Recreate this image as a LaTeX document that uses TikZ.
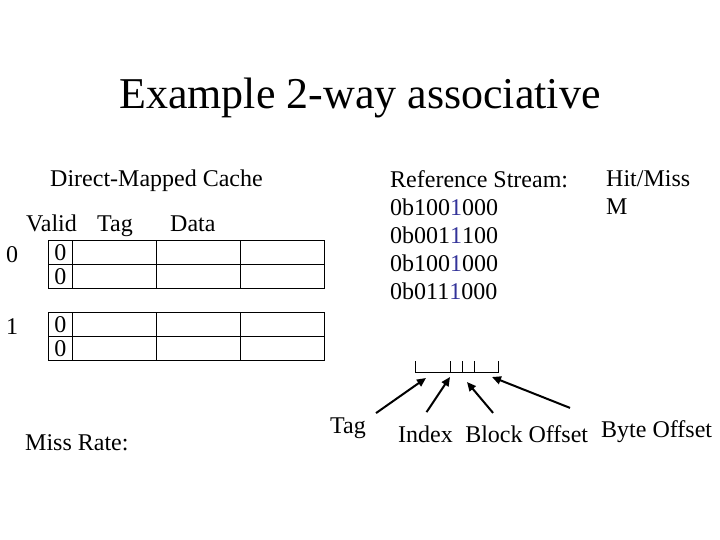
\documentclass[tikz,border=0pt]{standalone}
\usepackage{fontspec}
\setmainfont{Liberation Serif}
\usepackage{xcolor}
\usepackage{tikz}
\usetikzlibrary{arrows.meta,positioning}
\definecolor{idxblue}{HTML}{333399}
\newcommand{\hl}[1]{\textcolor{idxblue}{#1}}
\begin{document}
\begin{tikzpicture}[x=1pt,y=-1pt,
txt/.style={anchor=base west,inner sep=0pt,font=\fontsize{24}{28}\selectfont},
vcell/.style={draw,line width=.8pt,outer sep=0pt,inner sep=0pt,minimum width=24.5pt,minimum height=24pt,font=\fontsize{24}{28}\selectfont},
tcell/.style={vcell,minimum width=83.5pt},dcell/.style={vcell,minimum width=84pt},
arr/.style={-{Triangle[length=9pt,width=8pt]},line width=2pt}]
\useasboundingbox (0,0) rectangle (720,540);
\node[anchor=base,inner sep=0pt,font=\fontsize{44}{50}\selectfont] (title) at (360,109) {Example 2-way associative};
\node[txt] (dmc) at (50,187) {Direct-Mapped Cache};
\node[txt] (valid) at (26,231) {Valid};
\node[txt] (tagh) at (97,231) {Tag};
\node[txt] (data) at (170,231) {Data};
% two sets, two ways each
\foreach \s/\y in {0/252.3,1/324.3} {
  \node[txt] (set\s) at (6,\y+9.7) {\s};
  \node[vcell] (v\s a) at (60.3,\y) {0};
  \node[vcell,below=0pt of v\s a] (v\s b) {0};
  \foreach \r in {a,b} {
    \node[tcell,right=0pt of v\s\r] (t\s\r) {};
    \node[dcell,right=0pt of t\s\r] (d\s\r) {};
    \node[dcell,right=0pt of d\s\r] (e\s\r) {};
  }
}
\node[txt,align=left,anchor=north west] (refs) at (390,170.5) {Reference Stream:\\0b100\hl{1}000\\0b001\hl{1}100\\0b100\hl{1}000\\0b011\hl{1}000};
\node[txt,align=left,anchor=north west] (hm) at (606,170.5) {Hit/Miss\\M};
\node[txt] (miss) at (25,450) {Miss Rate:};
% address bits
\draw[line width=.8pt] (415,361) |- (498,372) -- (498,361);
\foreach \x in {450,462,474} \draw[line width=.8pt] (\x,361) -- (\x,372);
\coordinate (tagpt) at (426,378);
\coordinate (idxpt) at (450,377);
\coordinate (blkpt) at (467,382);
\coordinate (bytpt) at (492,377);
\node[txt] (tag) at (330,433) {Tag};
\node[txt] (idx) at (398,442) {Index};
\node[txt,right=12pt of idx.base east,anchor=base west] (blk) {Block Offset};
\node[txt] (byt) at (601,437) {Byte Offset};
\draw[arr] ([shift={(10,-4)}]tag.north east) -- (tagpt);
\draw[arr] ([shift={(1,-13)}]idx.north) -- (idxpt);
\draw[arr] ([shift={(28,-12)}]blk.north west) -- (blkpt);
\draw[arr] ([shift={(-31,-12)}]byt.north west) -- (bytpt);
\end{tikzpicture}
\end{document}
